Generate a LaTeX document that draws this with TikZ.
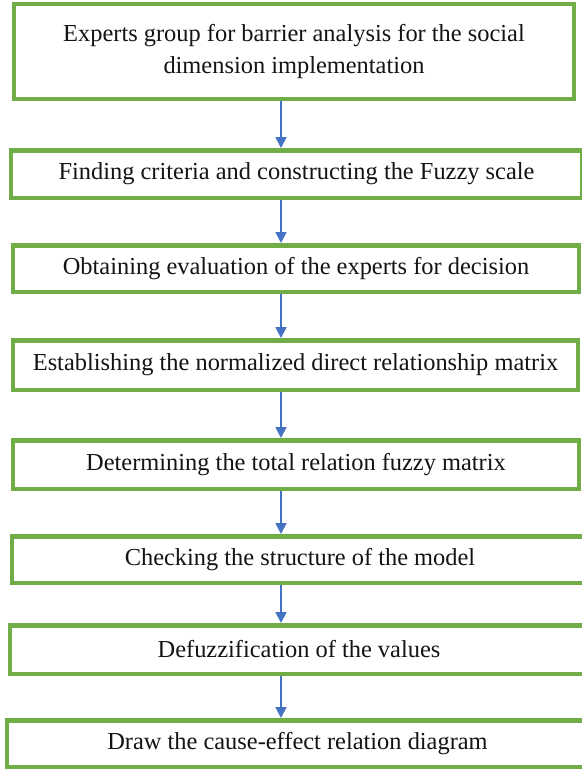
\documentclass[tikz,border=0pt]{standalone}
\usepackage{fontspec}
\setmainfont{Liberation Serif}
\usetikzlibrary{arrows.meta}
\definecolor{boxgreen}{HTML}{70AD47}
\definecolor{arrblue}{HTML}{4472C4}
\begin{document}
\begin{tikzpicture}[x=1bp,y=-1bp,
  stepbox/.style={draw=boxgreen, line width=4.5bp, rectangle, inner sep=0pt,
    align=center, font=\fontsize{24.5}{32}\selectfont, text=black!92},
  arr/.style={draw=arrblue, line width=1.8bp, -{Triangle[length=11bp,width=11bp]}}]
\useasboundingbox (0,0) rectangle (582,769);
\fill[white] (0,0) rectangle (582,769);
\node[stepbox, minimum width=559.5bp, minimum height=94.5bp] (n1) at (294,51.5)
  {Experts group for barrier analysis for the social\\dimension implementation};
\node[stepbox, minimum width=570.5bp, minimum height=47.5bp] (n2) at (296.5,174)
  {Finding criteria and constructing the Fuzzy scale};
\node[stepbox, minimum width=565.5bp, minimum height=46.5bp] (n3) at (296,268.5)
  {Obtaining evaluation of the experts for decision};
\node[stepbox, minimum width=564.5bp, minimum height=49.5bp] (n4) at (295.5,365)
  {Establishing the normalized direct relationship matrix};
\node[stepbox, minimum width=565.5bp, minimum height=48.5bp] (n5) at (296,464.5)
  {Determining the total relation fuzzy matrix};
\node[stepbox, minimum width=575.5bp, minimum height=46.5bp] (n6) at (300,559.5)
  {Checking the structure of the model};
\node[stepbox, minimum width=577.5bp, minimum height=48.5bp] (n7) at (299,649.5)
  {Defuzzification of the values};
\node[stepbox, minimum width=580.5bp, minimum height=46.5bp] (n8) at (297.5,743.5)
  {Draw the cause-effect relation diagram};
\coordinate (ax) at (281,0);
\draw[arr] (n1.south -| ax) -- (n2.north -| ax);
\draw[arr] (n2.south -| ax) -- (n3.north -| ax);
\draw[arr] (n3.south -| ax) -- (n4.north -| ax);
\draw[arr] (n4.south -| ax) -- (n5.north -| ax);
\draw[arr] (n5.south -| ax) -- (n6.north -| ax);
\draw[arr] (n6.south -| ax) -- (n7.north -| ax);
\draw[arr] (n7.south -| ax) -- (n8.north -| ax);
\end{tikzpicture}
\end{document}
